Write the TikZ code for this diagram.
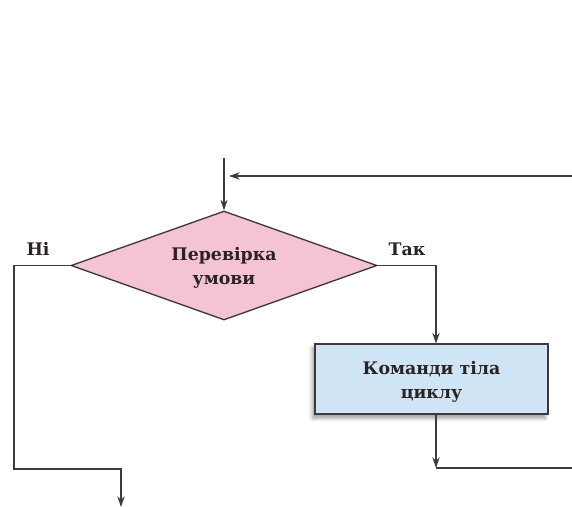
\documentclass[tikz,border=0pt]{standalone}
\usepackage{fontspec}
\setmainfont{DejaVu Serif}
\usetikzlibrary{shapes.geometric,arrows.meta,shadows.blur,calc}
\definecolor{linec}{HTML}{3C3C3C}
\definecolor{pinkf}{HTML}{F4C4D2}
\definecolor{bluef}{HTML}{CFE4F5}
\definecolor{txt}{HTML}{2A2224}
\tikzset{
  conn/.style={draw=linec, line width=1pt},
  arr/.style={conn, -{Stealth[length=8pt,width=5.5pt]}},
  decision/.style={diamond, draw=txt!90, line width=1pt, fill=pinkf, aspect=2.81,
    minimum width=229.5pt, minimum height=81.75pt, inner sep=0pt,
    align=center, font=\bfseries\fontsize{13}{18}\selectfont, text=txt},
  process/.style={rectangle, draw=txt!90, line width=1pt, fill=bluef,
    minimum width=174.75pt, minimum height=52.5pt, inner sep=0pt,
    align=center, font=\bfseries\fontsize{13}{18}\selectfont, text=txt,
    blur shadow={shadow xshift=-2pt, shadow yshift=-3pt, shadow blur radius=3pt, shadow opacity=40}},
  lbl/.style={font=\bfseries\fontsize{13}{14}\selectfont, text=txt, anchor=base, inner sep=0pt},
  inner/.style={align=center, font=\bfseries\fontsize{13}{18}\selectfont, text=txt, inner sep=0pt}
}
\begin{document}
\begin{tikzpicture}[x=0.75pt, y=-0.75pt]
\useasboundingbox (0,0) rectangle (572,507);
\node[decision] (d) at (224,265.5) {};
\node[process] (b) at (431.5,379) {};
\node[inner] (dt) at (224,268) {Перевірка\\умови};
\node[inner] (bt) at (431.5,382) {Команди тіла\\циклу};
\node[lbl] (no) at (38,255) {Ні};
\node[lbl] (yes) at (407,255) {Так};
\coordinate (top) at (224,158);
\coordinate (rin) at (572,176);
\coordinate (join) at (229,176);
\coordinate (l1) at (14,265.5);
\coordinate (l2) at (14,469);
\coordinate (l3) at (121,469);
\coordinate (l4) at (121,507);
\coordinate (bin) at (436,343.5);
\coordinate (bout) at (436,414);
\coordinate (r1) at (436,468);
\coordinate (r2) at (572,468);
\draw[arr] (top) -- (d.north);
\draw[arr] (rin) -- (join);
\draw[arr] (d.west) -- (l1) -- (l2) -- (l3) -- (l4);
\draw[arr] (d.east) -| (bin);
\draw[arr] (bout) -- (r1);
\draw[conn] (r1) -- (r2);
\end{tikzpicture}
\end{document}
